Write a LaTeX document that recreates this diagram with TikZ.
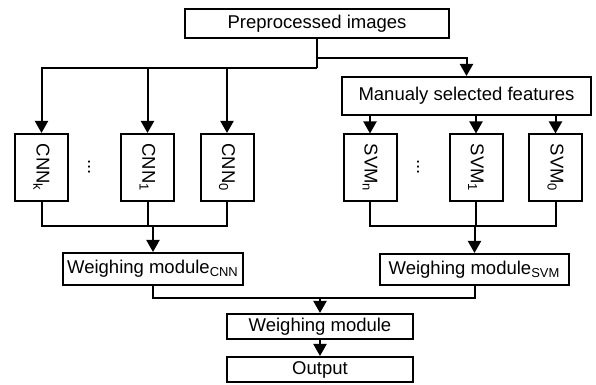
\documentclass[tikz,border=0pt]{standalone}
\usepackage{fontspec}
\setmainfont{Liberation Sans}
\usepackage{graphicx}
\usetikzlibrary{arrows.meta}

\begin{document}
\begin{tikzpicture}[
  x=.5pt, y=-.5pt,
  >={Triangle[length=6pt,width=6.5pt]},
  line width=1pt,
  every node/.style={font=\fontsize{9.25}{11}\selectfont, inner sep=0pt},
  wide/.style={draw, align=center, minimum height=12.5pt},
  tall/.style={draw, minimum width=26.5pt, minimum height=33.5pt}
]
\useasboundingbox (0,0) rectangle (596,385);

\node[wide, minimum width=132pt, minimum height=14.5pt] (pre) at (317,24) {Preprocessed images};
\node[wide, minimum width=124.5pt, minimum height=19pt] (man) at (466.5,96) {Manualy selected features};

\node[tall] (cnnk) at (41.5,167.5) {\rotatebox{-90}{CNN\textsubscript{k}}};
\node[tall] (cnn1) at (147.5,167.5) {\rotatebox{-90}{CNN\textsubscript{1}}};
\node[tall] (cnn0) at (227,167.5) {\rotatebox{-90}{CNN\textsubscript{0}}};
\node (dotc) at (89,167) {\rotatebox{-90}{...}};

\node[tall] (svmn) at (370,168) {\rotatebox{-90}{SVM\textsubscript{n}}};
\node[tall] (svm1) at (476,168) {\rotatebox{-90}{SVM\textsubscript{1}}};
\node[tall] (svm0) at (555.5,168) {\rotatebox{-90}{SVM\textsubscript{0}}};
\node (dots) at (418,167) {\rotatebox{-90}{...}};

\node[wide, minimum width=90pt, minimum height=16pt] (wcnn) at (153,269) {Weighing module\textsubscript{CNN}};
\node[wide, minimum width=94.5pt, minimum height=15.5pt] (wsvm) at (474.5,269.5) {Weighing module\textsubscript{SVM}};
\node[wide, minimum width=93pt] (wm) at (320,326.5) {Weighing module};
\node[wide, minimum width=93pt] (out) at (320,369.5) {Output};

% branch points
\coordinate (jt) at (317,68);
\coordinate (js) at (317,58.5);
\coordinate (cb) at (0,226);
\coordinate (wb) at (0,298);

\draw (pre.south) -- (jt);
\draw[->] (jt) -| (cnnk.north);
\draw[->] (cnn1.north |- jt) -- (cnn1);
\draw[->] (cnn0.north |- jt) -- (cnn0);
\draw[->] (js) -| (man.north);

\draw[->] (svmn.north |- man.south) -- (svmn);
\draw[->] (svm1.north |- man.south) -- (svm1);
\draw[->] (svm0.north |- man.south) -- (svm0);

\draw (cnnk.south) |- (cnn0.south |- cb) -- (cnn0.south);
\draw (cnn1) -- (cnn1.south |- cb);
\draw[->] (wcnn.north |- cb) -- (wcnn);

\draw (svmn.south) |- (svm0.south |- cb) -- (svm0.south);
\draw (svm1) -- (svm1.south |- cb);
\draw[->] (wsvm.north |- cb) -- (wsvm);

\draw (wcnn.south) |- (wsvm.south |- wb) -- (wsvm.south);
\draw[->] (wm.north |- wb) -- (wm);
\draw[->] (wm) -- (out);
\end{tikzpicture}
\end{document}
